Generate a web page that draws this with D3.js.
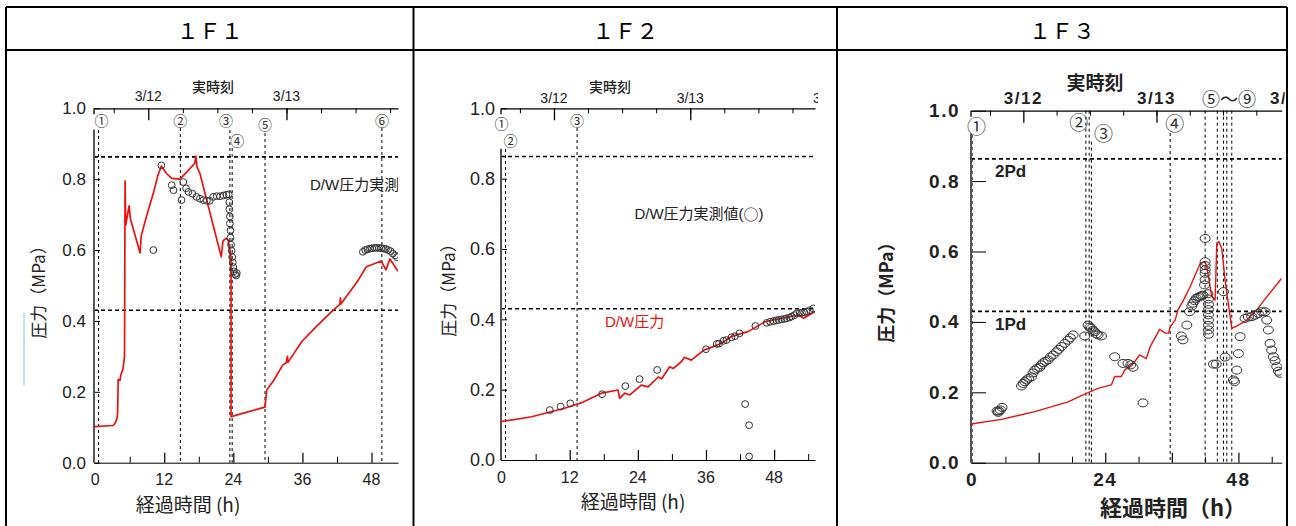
<!DOCTYPE html>
<html>
<head>
<meta charset="utf-8">
<script src="https://cdn.jsdelivr.net/npm/d3@7"></script>
<style>
  html, body { margin: 0; padding: 0; background: #fff; }
  svg { display: block; font-family: "Liberation Sans", "Noto Sans CJK JP", sans-serif; }
</style>
</head>
<body>
<svg id="chart" width="1296" height="526"></svg>
<script>
// ---- data ----
const panelTitles = ["１Ｆ１", "１Ｆ２", "１Ｆ３"];
const yTickValues = [0, 0.2, 0.4, 0.6, 0.8, 1.0];
const xLabelsA = [0, 12, 24, 36, 48];
const xLabelsB = [0, 24, 48];
const dateLabels = ["3/12", "3/13", "3/14"];
const dateHours = [9.23, 33.23, 57.23]; // midnight, hours after 3/11 14:46
const pdLevels = [0.43, 0.863];
const pdLabels = ["1Pd", "2Pd"];

// 1F1 D/W pressure (analysis) and measured values
const f1Pressure = [
  [-0.2, 0.102], [3.1, 0.105], [3.5, 0.112], [3.8, 0.125], [3.9, 0.14], [4.0, 0.235],
  [4.3, 0.232], [4.5, 0.25], [4.8, 0.262], [5.0, 0.285], [5.1, 0.3], [5.2, 0.795],
  [5.3, 0.67], [5.9, 0.725], [6.1, 0.69], [7.8, 0.592], [8.0, 0.64], [8.9, 0.694],
  [10.1, 0.76], [10.9, 0.811], [11.5, 0.837], [12.4, 0.816], [13.3, 0.802], [14.7, 0.8],
  [15.9, 0.82], [17.3, 0.845], [17.5, 0.865], [17.7, 0.834], [18.2, 0.816], [21.9, 0.581],
  [22.2, 0.625], [22.7, 0.633], [23.1, 0.628], [23.4, 0.6], [23.6, 0.58], [23.6, 0.13],
  [29.5, 0.157], [29.8, 0.205], [31.0, 0.232], [32.6, 0.276], [33.2, 0.282], [33.4, 0.3],
  [33.5, 0.283], [35.9, 0.342], [38.4, 0.384], [41.3, 0.43], [42.5, 0.447], [42.6, 0.465],
  [42.7, 0.448], [43.6, 0.468], [45.7, 0.515], [47.1, 0.553], [49.7, 0.569], [50.5, 0.544],
  [51.2, 0.575], [52.6, 0.54]
];
const f1Measured = [
  [10.1, 0.6], [11.5, 0.839], [13.3, 0.783], [13.6, 0.769], [15.0, 0.741], [15.3, 0.792],
  [15.8, 0.774], [16.2, 0.764], [16.9, 0.759], [17.6, 0.75], [18.2, 0.745], [18.8, 0.741],
  [19.4, 0.739], [19.9, 0.739], [20.5, 0.75], [21.1, 0.752], [21.7, 0.752], [22.3, 0.754],
  [22.8, 0.756], [23.2, 0.757], [23.3, 0.735], [23.3, 0.715], [23.4, 0.695], [23.4, 0.675],
  [23.5, 0.655], [23.5, 0.635], [23.6, 0.615], [23.7, 0.598], [23.8, 0.58], [23.9, 0.565],
  [24.0, 0.552], [24.1, 0.54], [24.3, 0.532], [24.5, 0.528], [24.6, 0.535],
  [46.5, 0.595], [46.9, 0.6], [47.3, 0.602], [47.7, 0.604], [48.1, 0.605], [48.5, 0.606],
  [48.9, 0.606], [49.3, 0.606], [49.7, 0.605], [50.1, 0.604], [50.5, 0.603], [50.9, 0.6],
  [51.3, 0.597], [51.7, 0.59], [52.1, 0.585], [52.4, 0.58]
];
const f1Events = [
  { h: 0.6, label: "①" }, { h: 14.8, label: "②" }, { h: 23.4, label: "③" },
  { h: 23.8, label: "④" }, { h: 29.5, label: "⑤" }, { h: 49.8, label: "⑥" }
];

// 1F2
const f2Pressure = [
  [-0.1, 0.109], [5.3, 0.123], [11.1, 0.147], [14.1, 0.163], [17.6, 0.19], [20.5, 0.199],
  [20.8, 0.175], [21.7, 0.19], [22.6, 0.185], [24.6, 0.213], [25.8, 0.208], [27.6, 0.236],
  [28.2, 0.231], [29.6, 0.265], [30.2, 0.26], [31.7, 0.28], [32.2, 0.292], [33.4, 0.284],
  [35.7, 0.313], [36.6, 0.318], [38.7, 0.332], [40.5, 0.351], [42.3, 0.36], [43.4, 0.365],
  [46.4, 0.393], [49.3, 0.403], [52.3, 0.413], [53.2, 0.403], [55.2, 0.422]
];
const f2Measured = [
  [8.5, 0.142], [10.4, 0.152], [12.1, 0.161], [17.7, 0.187], [21.8, 0.21], [24.3, 0.23],
  [27.4, 0.256], [36.0, 0.315], [37.9, 0.33], [38.3, 0.331], [39.1, 0.339], [39.6, 0.341],
  [40.5, 0.349], [41.1, 0.352], [41.9, 0.36], [42.9, 0.159], [43.6, 0.099], [43.6, 0.01],
  [44.7, 0.381], [46.7, 0.39], [47.3, 0.393], [47.9, 0.395], [48.4, 0.397], [48.8, 0.398],
  [49.3, 0.4], [49.8, 0.401], [50.2, 0.403], [50.7, 0.405], [51.1, 0.408], [51.6, 0.412],
  [52.0, 0.417], [52.5, 0.418], [52.9, 0.419], [53.3, 0.42], [53.7, 0.422], [54.3, 0.426],
  [54.9, 0.431]
];
const f2Events = [
  { h: 0, label: "①" }, { h: 0.7, label: "②" }, { h: 13.3, label: "③" }
];

// 1F3
const f3Pressure = [
  [-0.2, 0.11], [5.3, 0.123], [11.3, 0.145], [17.3, 0.173], [20.6, 0.197], [22.7, 0.211],
  [25.1, 0.221], [25.7, 0.245], [26.9, 0.245], [27.5, 0.263], [29.3, 0.287], [30.2, 0.306],
  [31.4, 0.296], [32.1, 0.33], [33.8, 0.379], [34.8, 0.368], [35.4, 0.368], [35.7, 0.386],
  [36.6, 0.405], [37.1, 0.434], [38.1, 0.462], [39.3, 0.5], [41.1, 0.566], [42.0, 0.571],
  [42.3, 0.556], [43.2, 0.472], [43.8, 0.462], [44.1, 0.623], [44.5, 0.628], [45.0, 0.609],
  [45.6, 0.518], [46.8, 0.382], [47.7, 0.388], [49.5, 0.405], [51.3, 0.434], [53.1, 0.471],
  [55.8, 0.524]
];
const f3Measured = [
  [4.5, 0.147], [4.7, 0.143], [4.8, 0.147], [5.1, 0.15], [5.4, 0.157],
  [8.9, 0.218], [9.2, 0.225], [9.5, 0.23], [9.8, 0.235], [10.2, 0.24], [10.7, 0.244],
  [11.0, 0.255], [11.3, 0.263], [11.7, 0.268], [12.2, 0.271], [12.5, 0.278], [12.8, 0.284],
  [13.2, 0.288], [13.7, 0.292], [14.1, 0.3], [14.6, 0.306], [15.2, 0.315], [15.6, 0.322],
  [16.1, 0.33], [16.7, 0.339], [17.3, 0.348], [17.7, 0.355], [18.2, 0.363], [20.3, 0.36],
  [20.9, 0.391], [21.2, 0.385], [21.5, 0.382], [21.8, 0.376], [22.1, 0.372], [22.4, 0.366],
  [22.7, 0.363], [23.3, 0.36], [25.7, 0.301], [27.2, 0.282], [28.1, 0.282], [28.6, 0.278],
  [29.0, 0.271], [30.8, 0.17], [37.7, 0.36], [38.0, 0.349], [38.7, 0.391], [39.2, 0.429],
  [39.6, 0.445], [39.8, 0.453], [40.1, 0.46], [40.4, 0.467], [40.7, 0.47], [41.0, 0.472],
  [41.3, 0.474], [41.6, 0.476], [41.9, 0.505], [42.0, 0.637], [42.0, 0.571], [42.0, 0.56],
  [42.0, 0.548], [42.0, 0.538], [42.0, 0.52], [42.5, 0.48], [42.6, 0.465], [42.6, 0.45],
  [42.6, 0.435], [42.6, 0.42], [42.6, 0.405], [42.6, 0.39], [42.6, 0.377], [42.6, 0.365],
  [43.5, 0.28], [44.0, 0.28], [45.3, 0.486], [45.6, 0.3], [47.1, 0.235], [47.3, 0.23],
  [47.7, 0.263], [48.0, 0.31], [48.3, 0.358], [49.2, 0.41], [49.8, 0.414], [50.4, 0.415],
  [51.0, 0.419], [51.6, 0.424], [52.2, 0.429], [52.8, 0.429], [53.1, 0.405], [53.4, 0.377],
  [53.7, 0.339], [54.0, 0.32], [54.3, 0.301], [54.6, 0.29], [54.9, 0.273], [55.2, 0.26],
  [55.5, 0.254]
];
const f3Events = [
  { h: 0, label: "①" }, { h: 20.5, label: "②" }, { h: 21.1, label: "" },
  { h: 21.5, label: "③" }, { h: 35.7, label: "④" }, { h: 42.0, label: "" },
  { h: 44.2, label: "" }, { h: 45.3, label: "" }, { h: 45.9, label: "" }, { h: 46.8, label: "" }
];
const f3GroupLabel = "⑤～⑨";

// ---- layout ----
const svg = d3.select("#chart");
const frame = { left: 6, right: 1287, top: 7, headBottom: 50, splits: [413.5, 837] };

// table
const cells = [frame.left, frame.splits[0], frame.splits[1], frame.right];
svg.append("g").selectAll("line")
  .data(cells).enter().append("line")
  .attr("x1", (d) => d).attr("x2", (d) => d)
  .attr("y1", frame.top).attr("y2", 526)
  .attr("stroke", "#000").attr("stroke-width", 2);
[frame.top, frame.headBottom].forEach((y) => {
  svg.append("line")
    .attr("x1", frame.left).attr("x2", frame.right)
    .attr("y1", y).attr("y2", y)
    .attr("stroke", "#000").attr("stroke-width", 2);
});
panelTitles.forEach((t, i) => {
  svg.append("text")
    .attr("x", (cells[i] + cells[i + 1]) / 2)
    .attr("y", 29)
    .attr("text-anchor", "middle")
    .attr("dominant-baseline", "central")
    .attr("font-family", "Noto Sans CJK JP")
    .attr("font-size", 22)
    .text(t);
});

const panels = [
  {
    id: "p1", pressure: f1Pressure, measured: f1Measured, events: f1Events, xLabels: xLabelsA,
    xRange: [94, 398], xDomain: [-0.2, 52.6], yRange: [462.7, 108.3], axisTop: 0.94,
    labelPad: 8, yTick: 6, bold: false, xFont: 16, yFont: 17, numFont: 14, markR: [3.4, 3.4],
    yTitle: [37, 288, 17], xTitle: [188, 503, 19], realTime: [213, 86, 14], dateY: 96, dateFont: 14,
    cellLeft: cells[0],
    eventLayout: [[3, 120, 130], [0, 120, 128], [-4, 120, 130], [5, 140, 148], [0, 124, 133], [0, 120, 128]]
  },
  {
    id: "p2", pressure: f2Pressure, measured: f2Measured, events: f2Events, xLabels: xLabelsA,
    xRange: [501, 815], xDomain: [-0.1, 55.2], yRange: [460, 108.3], axisTop: 0.885,
    labelPad: 6, yTick: 6, bold: false, xFont: 16, yFont: 18, numFont: 14, markR: [3.4, 3.4],
    yTitle: [447, 286, 17], xTitle: [633, 500, 19], realTime: [610, 86, 14], dateY: 97.7, dateFont: 14,
    cellLeft: cells[1],
    eventLayout: [[0, 122.7, 149], [5, 140, 149], [0, 120, 128]]
  },
  {
    id: "p3", pressure: f3Pressure, measured: f3Measured, events: f3Events, xLabels: xLabelsB,
    xRange: [971, 1281.7], xDomain: [-0.2, 55.8], yRange: [462.7, 110.7], axisTop: 0.935,
    labelPad: 11, yTick: 15, bold: true, xFont: 19, yFont: 19, numFont: 19, markR: [5, 4],
    yTitle: [885, 288, 18], xTitle: [1173, 506, 22], realTime: [1095, 81, 19], dateY: 98.3, dateFont: 17,
    cellLeft: cells[2],
    eventLayout: [[4.5, 125.7, 135], [-7, 121.7, 110.7], [0, 0, 110.7], [12, 132.7, 141.7],
      [4.5, 122.7, 133], [0, 0, 110.7], [0, 0, 110.7], [0, 0, 110.7], [0, 0, 110.7], [0, 0, 110.7]]
  }
];

const defs = svg.append("defs");

panels.forEach((p) => {
  const x = d3.scaleLinear().domain(p.xDomain).range(p.xRange);
  const y = d3.scaleLinear().domain([0, 1]).range(p.yRange);
  const g = svg.append("g");
  const weight = p.bold ? "bold" : "normal";
  const spacing = p.bold ? 1.5 : 0;

  defs.append("clipPath").attr("id", "clip-" + p.id).append("rect")
    .attr("x", p.xRange[0]).attr("y", p.yRange[1])
    .attr("width", p.xRange[1] - p.xRange[0]).attr("height", p.yRange[0] - p.yRange[1]);
  defs.append("clipPath").attr("id", "clipTop-" + p.id).append("rect")
    .attr("x", p.cellLeft).attr("y", 60)
    .attr("width", p.xRange[1] + 3 - p.cellLeft).attr("height", 420);

  // horizontal Pd lines
  g.selectAll(".pd").data(pdLevels).enter().append("line")
    .attr("x1", p.xRange[0]).attr("x2", p.xRange[1])
    .attr("y1", (d) => y(d)).attr("y2", (d) => y(d))
    .attr("stroke", "#000").attr("stroke-width", 1.6)
    .attr("stroke-dasharray", "4,3");

  // event lines and circled numbers
  p.events.forEach((e, i) => {
    const lay = p.eventLayout[i];
    g.append("line")
      .attr("x1", x(e.h)).attr("x2", x(e.h))
      .attr("y1", lay[2]).attr("y2", p.yRange[0])
      .attr("stroke", "#000").attr("stroke-width", 1)
      .attr("stroke-dasharray", "3,3");
    if (e.label) {
      g.append("text")
        .attr("x", x(e.h) + lay[0]).attr("y", lay[1])
        .attr("text-anchor", "middle").attr("dominant-baseline", "central")
        .attr("font-family", "Noto Sans CJK JP")
        .attr("font-size", p.numFont).attr("fill", "#333")
        .text(e.label);
    }
  });

  // bottom axis: long ticks every 12 h, short every 6 h
  g.append("g").attr("transform", `translate(0,${p.yRange[0]})`)
    .call(d3.axisBottom(x).tickValues([6, 18, 30, 42, 54].filter((v) => v < p.xDomain[1]))
      .tickSize(-6).tickSizeOuter(0).tickFormat(""))
    .call((a) => a.select(".domain").remove());
  g.append("g").attr("transform", `translate(0,${p.yRange[0]})`)
    .call(d3.axisBottom(x).tickValues([12, 24, 36, 48]).tickSize(-10).tickSizeOuter(0).tickFormat(""))
    .call((a) => a.selectAll(".tick line").attr("stroke-width", 1.2));
  g.selectAll(".xlab").data(p.xLabels).enter().append("text")
    .attr("x", (d) => x(d)).attr("y", p.yRange[0] + 17)
    .attr("text-anchor", "middle").attr("dominant-baseline", "central")
    .attr("font-size", p.xFont).attr("font-weight", weight).attr("letter-spacing", spacing)
    .attr("fill", "#222")
    .text((d) => d);

  // top axis: real time, ticks every 6 h, long at midnight
  const topMinor = d3.range(3.23, p.xDomain[1], 6).filter((v) => Math.abs((v - 9.23) % 24) > 0.01);
  g.append("g").attr("transform", `translate(0,${p.yRange[1]})`)
    .call(d3.axisTop(x).tickValues(topMinor).tickSize(-5).tickSizeOuter(0).tickFormat(""))
    .call((a) => a.select(".domain").attr("stroke-width", 1.3));
  g.append("g").attr("transform", `translate(0,${p.yRange[1]})`)
    .call(d3.axisTop(x).tickValues(dateHours.filter((v) => v < p.xDomain[1])).tickSize(-12).tickSizeOuter(0).tickFormat(""))
    .call((a) => a.select(".domain").remove())
    .call((a) => a.selectAll(".tick line").attr("stroke-width", 1.3));
  g.append("g").attr("clip-path", `url(#clipTop-${p.id})`)
    .selectAll("text").data(dateLabels).enter().append("text")
    .attr("x", (d, i) => x(dateHours[i])).attr("y", p.dateY)
    .attr("text-anchor", "middle").attr("dominant-baseline", "central")
    .attr("font-size", p.dateFont).attr("font-weight", weight).attr("letter-spacing", spacing)
    .attr("fill", "#222")
    .text((d) => d);
  g.append("text")
    .attr("x", p.realTime[0]).attr("y", p.realTime[1])
    .attr("text-anchor", "middle").attr("dominant-baseline", "central")
    .attr("font-family", "Noto Sans CJK JP").attr("font-size", p.realTime[2])
    .attr("font-weight", p.bold ? 700 : 500).attr("fill", "#222")
    .text("実時刻");

  // left axis
  g.append("g").attr("transform", `translate(${p.xRange[0]},0)`)
    .call(d3.axisLeft(y).tickValues(yTickValues).tickSize(-p.yTick).tickPadding(p.labelPad)
      .tickFormat(d3.format(".1f")))
    .call((a) => a.select(".domain").remove())
    .call((a) => a.selectAll("text")
      .attr("font-size", p.yFont).attr("font-weight", weight)
      .attr("letter-spacing", spacing).attr("fill", "#222")
      .attr("font-family", "Liberation Sans"));
  g.append("line")
    .attr("x1", p.xRange[0]).attr("x2", p.xRange[0])
    .attr("y1", y(p.axisTop)).attr("y2", p.yRange[0])
    .attr("stroke", "#555").attr("stroke-width", 2);
  g.append("line")
    .attr("x1", p.xRange[0]).attr("x2", p.xRange[0])
    .attr("y1", p.yRange[1]).attr("y2", p.yRange[1] + 6)
    .attr("stroke", "#000").attr("stroke-width", 1.3);

  // axis titles
  g.append("text")
    .attr("transform", `translate(${p.yTitle[0]},${p.yTitle[1]}) rotate(-90)`)
    .attr("text-anchor", "middle").attr("dominant-baseline", "central")
    .attr("font-family", "Noto Sans CJK JP").attr("font-size", p.yTitle[2])
    .attr("font-weight", p.bold ? 700 : 400).attr("fill", "#222")
    .text("圧力（MPa）");
  g.append("text")
    .attr("x", p.xTitle[0]).attr("y", p.xTitle[1])
    .attr("text-anchor", "middle").attr("dominant-baseline", "central")
    .attr("font-family", "Noto Sans CJK JP").attr("font-size", p.xTitle[2])
    .attr("font-weight", p.bold ? 700 : 400).attr("fill", "#222")
    .text(p.bold ? "経過時間（h）" : "経過時間 (h)");

  // data
  const plot = g.append("g").attr("clip-path", `url(#clip-${p.id})`);
  plot.append("path")
    .datum(p.pressure)
    .attr("d", d3.line().x((d) => x(d[0])).y((d) => y(d[1])))
    .attr("fill", "none").attr("stroke", "#ee1111")
    .attr("stroke-width", p.bold ? 1.4 : 1.7).attr("stroke-linejoin", "round");
  plot.selectAll("ellipse").data(p.measured).enter().append("ellipse")
    .attr("cx", (d) => x(d[0])).attr("cy", (d) => y(d[1]))
    .attr("rx", p.markR[0]).attr("ry", p.markR[1])
    .attr("fill", "none").attr("stroke", "#333").attr("stroke-width", 1);

  p.g = g; p.x = x; p.y = y; p.plot = plot;
});

// annotations
function measuredLabel(sel) {
  sel.append("tspan").text("D/W圧力実測値(");
  sel.append("tspan").attr("font-family", "Noto Sans CJK JP").text("○");
  sel.append("tspan").text(")");
}
const [P1, P2, P3] = panels;
P1.plot.append("text")
  .attr("x", 310).attr("y", 184).attr("dominant-baseline", "central")
  .attr("font-size", 15).attr("fill", "#222").call(measuredLabel);
P2.g.append("text")
  .attr("x", 699).attr("y", 212.7).attr("text-anchor", "middle").attr("dominant-baseline", "central")
  .attr("font-size", 15).attr("fill", "#222").call(measuredLabel);
P2.g.append("text")
  .attr("x", 605).attr("y", 321.7).attr("dominant-baseline", "central")
  .attr("font-size", 15).attr("fill", "#ee1111").text("D/W圧力");
P3.g.selectAll(".pdlab").data(pdLabels).enter().append("text")
  .attr("x", 995).attr("y", (d, i) => P3.y(pdLevels[i]) + 13)
  .attr("dominant-baseline", "central")
  .attr("font-size", 17).attr("font-weight", "bold").attr("fill", "#222")
  .text((d) => d);
P3.g.append("text")
  .attr("x", 1229).attr("y", 98.3).attr("text-anchor", "middle").attr("dominant-baseline", "central")
  .attr("font-family", "Noto Sans CJK JP").attr("font-size", 18).attr("fill", "#222")
  .text(f3GroupLabel);

// stray light-blue mark left of the first panel's axis title
svg.append("line")
  .attr("x1", 24).attr("x2", 24).attr("y1", 313).attr("y2", 386)
  .attr("stroke", "#a9dbe9").attr("stroke-width", 1.5);
</script>
</body>
</html>
